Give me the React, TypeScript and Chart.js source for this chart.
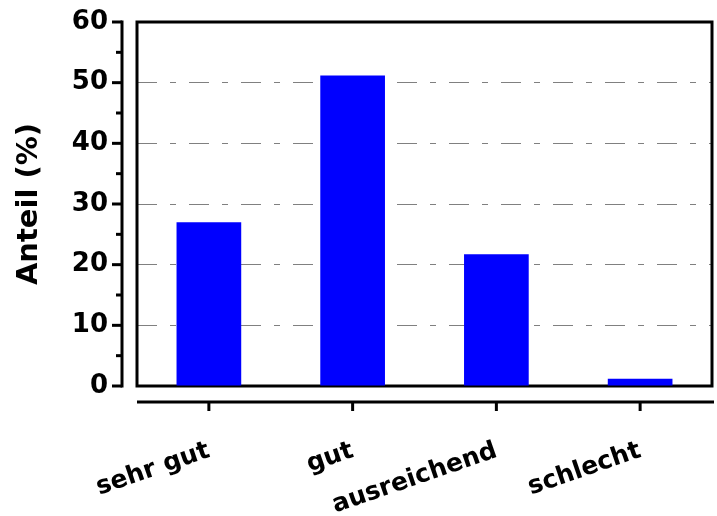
import React, { useEffect, useRef } from "react";
import { Chart, registerables } from "chart.js";

Chart.register(...registerables);

const categories = ["sehr gut", "gut", "ausreichend", "schlecht"];
const shares = [27.0, 51.2, 21.7, 1.2];
const yMin = 0;
const yMax = 60;
const yMajorStep = 10;
const yMinorStep = 5;
const yTitle = "Anteil (%)";

const FONT = "'DejaVu Sans', 'Liberation Sans', sans-serif";

const offsetAxesPlugin = {
  id: "offsetAxes",
  beforeDatasetsDraw(chart: any) {
    const { ctx, chartArea: a, scales } = chart;
    const ys = scales.y;
    const xs = scales.x;
    ctx.save();
    ctx.strokeStyle = "#000";
    ctx.lineWidth = 3;
    // plot frame
    ctx.strokeRect(a.left, a.top, a.right - a.left, a.bottom - a.top);
    // offset y axis
    const yx = a.left - 15;
    ctx.beginPath();
    ctx.moveTo(yx, ys.getPixelForValue(yMax) - 1.5);
    ctx.lineTo(yx, ys.getPixelForValue(yMin) + 1.5);
    ctx.stroke();
    for (let v = yMin; v <= yMax; v += yMinorStep) {
      const py = ys.getPixelForValue(v);
      const len = v % yMajorStep === 0 ? 10 : 6;
      ctx.beginPath();
      ctx.moveTo(yx - len, py);
      ctx.lineTo(yx, py);
      ctx.stroke();
    }
    // offset x axis
    const xy = a.bottom + 16;
    ctx.beginPath();
    ctx.moveTo(a.left, xy);
    ctx.lineTo(a.right + 2, xy);
    ctx.stroke();
    categories.forEach((_, i) => {
      const px = xs.getPixelForValue(i);
      ctx.beginPath();
      ctx.moveTo(px, xy);
      ctx.lineTo(px, xy + 9);
      ctx.stroke();
    });
    ctx.restore();
  },
};

export default function App() {
  const ref = useRef<HTMLCanvasElement | null>(null);

  useEffect(() => {
    document.body.style.margin = "0";
    const canvas = ref.current;
    if (!canvas) return;
    const chart = new Chart(canvas, {
      type: "bar",
      data: {
        labels: categories,
        datasets: [
          {
            data: shares,
            backgroundColor: "#0000ff",
            borderWidth: 0,
            categoryPercentage: 0.45,
            barPercentage: 1,
          },
        ],
      },
      options: {
        animation: false,
        responsive: false,
        maintainAspectRatio: false,
        layout: { padding: { left: 0, top: 22, right: 5, bottom: 0 } },
        plugins: {
          legend: { display: false },
          tooltip: { enabled: false },
        },
        scales: {
          x: {
            afterFit: (s: any) => {
              s.height = 130;
            },
            grid: { display: false, drawTicks: false },
            border: { display: false },
            ticks: {
              autoSkip: false,
              minRotation: 19,
              maxRotation: 19,
              padding: 50,
              color: "#000",
              font: { family: FONT, size: 25, weight: "bold" },
            },
          },
          y: {
            min: yMin,
            max: yMax,
            afterFit: (s: any) => {
              s.width = 137;
            },
            grid: {
              drawTicks: true,
              tickLength: 29,
              tickColor: "rgba(0,0,0,0)",
              lineWidth: 1,
              color: (c: any) =>
                c.tick && (c.tick.value === yMin || c.tick.value === yMax)
                  ? "rgba(0,0,0,0)"
                  : "#808080",
            },
            border: { display: false, dash: [20, 13, 6, 13] },
            ticks: {
              stepSize: yMajorStep,
              padding: 0,
              color: "#000",
              font: { family: FONT, size: 26, weight: "bold" },
            },
            title: {
              display: true,
              text: yTitle,
              color: "#000",
              padding: { top: 12, bottom: 0 },
              font: { family: FONT, size: 29, weight: "bold" },
            },
          },
        },
      },
      plugins: [offsetAxesPlugin],
    });
    return () => chart.destroy();
  }, []);

  return (
    <div style={{ width: 717, height: 516 }}>
      <canvas ref={ref} width={717} height={516} style={{ display: "block" }} />
    </div>
  );
}
